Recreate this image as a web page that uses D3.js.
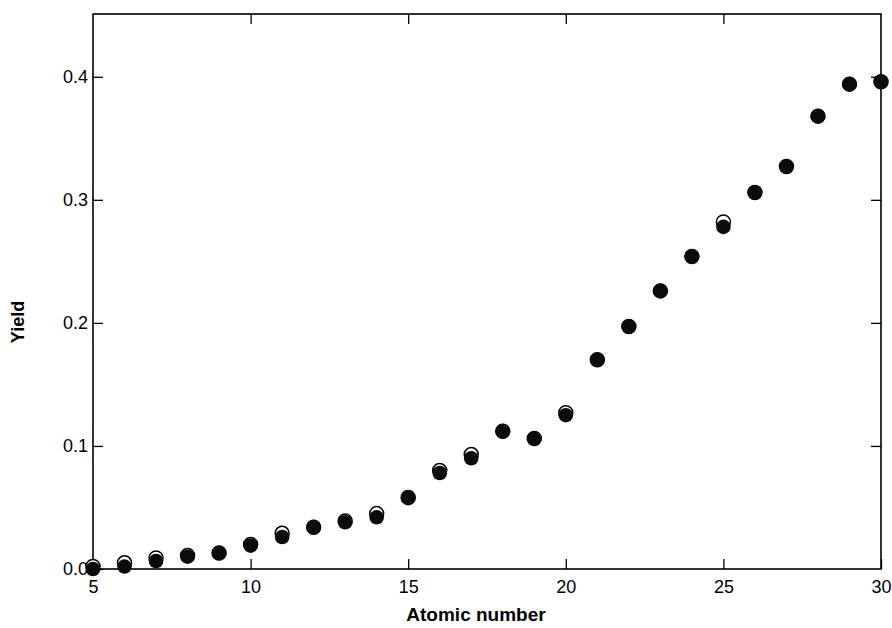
<!DOCTYPE html>
<html>
<head>
<meta charset="utf-8">
<script src="https://cdn.jsdelivr.net/npm/d3@7"></script>
<style>
  body { margin: 0; background: #fff; }
  text { font-family: "Liberation Sans", Arial, sans-serif; fill: #000; }
</style>
</head>
<body>
<svg id="svg" width="892" height="628"></svg>
<script>
const atomicNumbers = d3.range(5, 31)
// open circles (drawn underneath)
const openYield = [0.002, 0.005, 0.009, 0.011, 0.013, 0.020, 0.029, 0.034, 0.039, 0.045,
  0.058, 0.080, 0.093, 0.112, 0.106, 0.127, 0.170, 0.197, 0.226, 0.254,
  0.282, 0.306, 0.327, 0.368, 0.394, 0.396]
// filled circles
const filledYield = [0.000, 0.002, 0.0065, 0.010, 0.013, 0.019, 0.026, 0.034, 0.038, 0.042,
  0.0585, 0.078, 0.090, 0.112, 0.106, 0.125, 0.170, 0.197, 0.226, 0.254,
  0.278, 0.306, 0.327, 0.368, 0.394, 0.396]
const xTicks = [5, 10, 15, 20, 25, 30]
const yTicks = [0, 0.1, 0.2, 0.3, 0.4]

const margin = { left: 93, right: 11, top: 14, bottom: 59 }
const width = 892, height = 628

const svg = d3.select('#svg')

const x = d3.scaleLinear().domain([5, 30]).range([margin.left, width - margin.right])
const y = d3.scaleLinear().domain([0, 0.451]).range([height - margin.bottom, margin.top])

const tickLen = 10

// bottom axis with labels, ticks pointing inward
const bottom = svg.append('g')
  .attr('transform', `translate(0,${y(0)})`)
  .call(d3.axisBottom(x).tickValues(xTicks).tickSizeInner(-tickLen).tickSizeOuter(0).tickPadding(11))
bottom.selectAll('text').style('font-size', '18px')

const left = svg.append('g')
  .attr('transform', `translate(${x(5)},0)`)
  .call(d3.axisLeft(y).tickValues(yTicks).tickFormat(d3.format('.1f')).tickSizeInner(-tickLen).tickSizeOuter(0).tickPadding(5))
left.selectAll('text').style('font-size', '18px')

// top and right: ticks only
svg.append('g')
  .attr('transform', `translate(0,${y.range()[1]})`)
  .call(d3.axisTop(x).tickValues(xTicks.slice(1, -1)).tickSizeInner(-tickLen).tickSizeOuter(0).tickFormat(''))
svg.append('g')
  .attr('transform', `translate(${x(30)},0)`)
  .call(d3.axisRight(y).tickValues(yTicks.slice(1)).tickSizeInner(-tickLen).tickSizeOuter(0).tickFormat(''))

svg.selectAll('.domain').remove()
svg.selectAll('.tick line').attr('stroke', '#000').attr('stroke-width', 1.3)

// frame
svg.append('rect')
  .attr('x', x(5)).attr('y', y.range()[1])
  .attr('width', x(30) - x(5)).attr('height', y(0) - y.range()[1])
  .attr('fill', 'none').attr('stroke', '#000').attr('stroke-width', 1.6)

// points
svg.append('g').selectAll('circle')
  .data(openYield)
  .enter()
  .append('circle')
  .attr('cx', (d, i) => x(atomicNumbers[i]))
  .attr('cy', d => y(d))
  .attr('r', 7)
  .attr('fill', '#fff')
  .attr('stroke', '#000')
  .attr('stroke-width', 1.5)

svg.append('g').selectAll('circle')
  .data(filledYield)
  .enter()
  .append('circle')
  .attr('cx', (d, i) => x(atomicNumbers[i]))
  .attr('cy', d => y(d))
  .attr('r', 7.3)
  .attr('fill', '#0b0b0b')

// axis titles
svg.append('text')
  .attr('x', 476)
  .attr('y', 621)
  .attr('text-anchor', 'middle')
  .style('font-size', '19px')
  .style('font-weight', 'bold')
  .text('Atomic number')

svg.append('text')
  .attr('transform', `translate(24,322) rotate(-90)`)
  .attr('text-anchor', 'middle')
  .style('font-size', '18px')
  .style('font-weight', 'bold')
  .text('Yield')
</script>
</body>
</html>
